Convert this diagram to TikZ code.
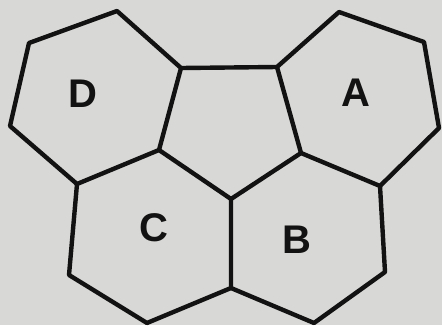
\documentclass[tikz,border=0pt]{standalone}
\usepackage{fontspec}
\setmainfont{Liberation Sans}
\definecolor{paper}{RGB}{216,216,214}
\definecolor{ink}{RGB}{18,18,18}
\begin{document}
\begin{tikzpicture}[x=1pt,y=-1pt,
  edge/.style={draw=ink,line width=4.4pt,line join=round,line cap=round},
  letter/.style={text=ink,font=\fontsize{40}{40}\selectfont\bfseries,inner sep=0pt}]
\fill[paper] (0,0) rectangle (442,325);
\useasboundingbox (0,0) rectangle (442,325);
% pentagon
\coordinate (p1) at (181,68);
\coordinate (p2) at (277,67);
\coordinate (p3) at (301,153);
\coordinate (p4) at (231,199);
\coordinate (p5) at (159,150);
% D
\coordinate (d1) at (117,11);
\coordinate (d2) at (29,43);
\coordinate (d3) at (10,126);
\coordinate (d4) at (77,184);
% A
\coordinate (a1) at (339,12);
\coordinate (a2) at (424,42);
\coordinate (a3) at (439,128);
\coordinate (a4) at (380,186);
% C
\coordinate (c1) at (69,275);
\coordinate (c2) at (147,323);
\coordinate (m) at (231,288);
% B
\coordinate (b1) at (314,323);
\coordinate (b2) at (385,272);
\draw[edge] (p1) -- (p2) -- (p3) -- (p4) -- (p5) -- cycle;
\draw[edge] (p1) -- (d1) -- (d2) -- (d3) -- (d4) -- (p5);
\draw[edge] (p2) -- (a1) -- (a2) -- (a3) -- (a4) -- (p3);
\draw[edge] (d4) -- (c1) -- (c2) -- (m) -- (p4);
\draw[edge] (m) -- (b1) -- (b2) -- (a4);
\node[letter] (lD) at (83,94) {D};
\node[letter] (lA) at (356,93) {A};
\node[letter] (lC) at (154,228) {C};
\node[letter] (lB) at (297,240) {B};
\end{tikzpicture}
\end{document}
